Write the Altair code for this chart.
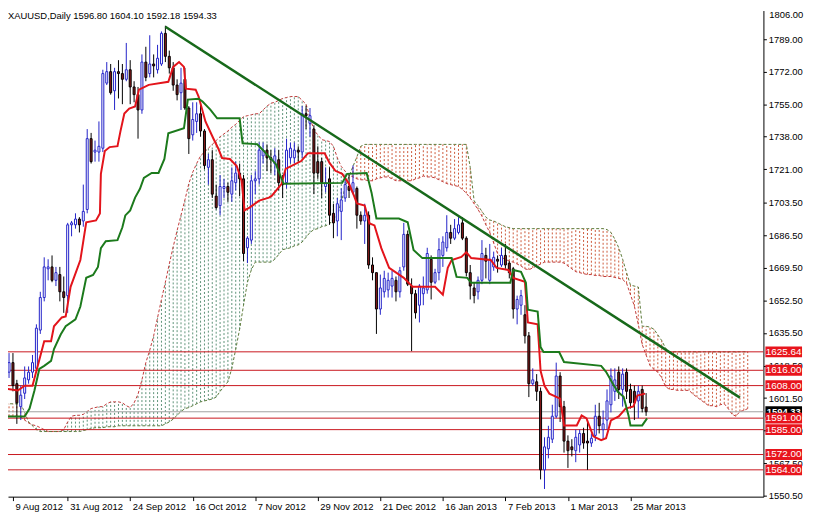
import json
import altair as alt
import pandas as pd

TITLE = "XAUUSD,Daily  1596.80 1604.10 1592.18 1594.33"
FONT = "Liberation Sans"

# daily candles, bar index 0 = 9 Aug 2012
OPEN = [1609, 1615, 1620, 1609, 1597, 1604, 1611, 1615, 1617, 1637,
        1654, 1669, 1670, 1663, 1666, 1657, 1655, 1692, 1692, 1695,
        1694, 1700, 1737, 1730, 1730, 1732, 1766, 1772, 1762, 1772,
        1771, 1768, 1773, 1764, 1760, 1752, 1777, 1771, 1776, 1773,
        1776, 1792, 1780, 1774, 1765, 1761, 1768, 1753, 1739, 1746,
        1750, 1741, 1722, 1726, 1707, 1702, 1711, 1712, 1708, 1714,
        1719, 1716, 1680, 1684, 1715, 1716, 1728, 1731, 1727, 1724,
        1726, 1714, 1714, 1727, 1727, 1731, 1730, 1750, 1745, 1742,
        1725, 1725, 1712, 1716, 1698, 1694, 1699, 1706, 1712, 1709,
        1711, 1697, 1694, 1697, 1671, 1667, 1648, 1657, 1658, 1660,
        1663, 1657, 1670, 1687, 1660, 1656, 1650, 1656, 1658, 1674,
        1662, 1667, 1676, 1680, 1688, 1685, 1688, 1693, 1685, 1667,
        1659, 1657, 1663, 1676, 1663, 1670, 1674, 1671, 1676, 1672,
        1669, 1648, 1650, 1645, 1634, 1609, 1610, 1605, 1564, 1575,
        1580, 1592, 1613, 1597, 1579, 1576, 1574, 1577, 1583, 1579,
        1578, 1582, 1592, 1585, 1590, 1598, 1605, 1615, 1606, 1615,
        1606, 1605, 1600, 1606, 1596.80]
HIGH = [1624, 1625, 1625, 1611, 1608, 1618, 1618, 1624, 1640, 1657,
        1675, 1674, 1676, 1670, 1670, 1665, 1693, 1694, 1698, 1696,
        1713, 1742, 1740, 1736, 1746, 1773, 1777, 1776, 1774, 1778,
        1776, 1787, 1778, 1767, 1764, 1781, 1785, 1791, 1781, 1786,
        1793, 1796, 1783, 1777, 1768, 1774, 1774, 1754, 1756, 1756,
        1755, 1742, 1729, 1731, 1713, 1718, 1716, 1714, 1722, 1725,
        1724, 1718, 1686, 1718, 1720, 1735, 1735, 1734, 1731, 1732,
        1731, 1718, 1737, 1735, 1735, 1733, 1754, 1754, 1753, 1744,
        1733, 1727, 1722, 1722, 1703, 1706, 1711, 1718, 1718, 1723,
        1712, 1699, 1703, 1699, 1675, 1667, 1666, 1668, 1667, 1668,
        1665, 1670, 1693, 1689, 1664, 1658, 1661, 1665, 1680, 1676,
        1669, 1685, 1686, 1697, 1692, 1695, 1696, 1696, 1686, 1671,
        1662, 1665, 1684, 1680, 1682, 1678, 1676, 1680, 1682, 1673,
        1670, 1655, 1658, 1650, 1636, 1617, 1614, 1607, 1581, 1587,
        1598, 1620, 1615, 1600, 1582, 1580, 1585, 1585, 1586, 1590,
        1583, 1598, 1599, 1595, 1606, 1617, 1617, 1618, 1617, 1617,
        1609, 1608, 1608, 1608, 1604.10]
LOW = [1606, 1612, 1605, 1588, 1590, 1601, 1609, 1612, 1616, 1635,
       1652, 1663, 1662, 1660, 1652, 1646, 1646, 1686, 1690, 1688,
       1691, 1698, 1724, 1725, 1725, 1730, 1765, 1760, 1752, 1758,
       1755, 1767, 1755, 1756, 1737, 1750, 1767, 1769, 1769, 1771,
       1775, 1777, 1771, 1762, 1757, 1752, 1752, 1729, 1736, 1740,
       1738, 1721, 1713, 1706, 1700, 1697, 1706, 1704, 1704, 1710,
       1707, 1673, 1672, 1682, 1708, 1713, 1724, 1720, 1719, 1718,
       1710, 1706, 1711, 1724, 1724, 1725, 1727, 1742, 1738, 1708,
       1716, 1706, 1709, 1692, 1685, 1686, 1684, 1704, 1706, 1708,
       1690, 1692, 1682, 1669, 1663, 1635, 1645, 1654, 1654, 1654,
       1652, 1654, 1668, 1660, 1626, 1643, 1641, 1650, 1656, 1653,
       1661, 1663, 1670, 1678, 1682, 1684, 1687, 1684, 1665, 1653,
       1651, 1653, 1661, 1664, 1661, 1668, 1667, 1670, 1669, 1664,
       1643, 1640, 1645, 1630, 1602, 1608, 1600, 1559, 1554, 1570,
       1578, 1591, 1589, 1573, 1565, 1571, 1568, 1573, 1575, 1564,
       1576, 1579, 1583, 1580, 1585, 1594, 1600, 1601, 1597, 1601,
       1596, 1590, 1591, 1594, 1592.18]
CLOSE = [1619, 1620, 1608, 1599, 1603, 1612, 1615, 1620, 1638, 1654,
         1670, 1670, 1663, 1667, 1657, 1654, 1692, 1693, 1695, 1692,
         1699, 1737, 1725, 1731, 1733, 1771, 1772, 1761, 1772, 1771,
         1768, 1773, 1764, 1760, 1752, 1777, 1769, 1776, 1775, 1779,
         1792, 1780, 1774, 1765, 1760, 1766, 1753, 1737, 1747, 1750,
         1741, 1723, 1726, 1708, 1701, 1712, 1712, 1709, 1715, 1719,
         1716, 1677, 1685, 1715, 1716, 1731, 1731, 1727, 1726, 1728,
         1714, 1713, 1731, 1732, 1731, 1730, 1750, 1749, 1749, 1719,
         1719, 1714, 1714, 1697, 1693, 1703, 1705, 1713, 1710, 1714,
         1697, 1694, 1697, 1671, 1667, 1648, 1659, 1664, 1663, 1664,
         1657, 1668, 1687, 1661, 1656, 1646, 1660, 1659, 1677, 1662,
         1667, 1679, 1683, 1688, 1685, 1690, 1692, 1685, 1667, 1660,
         1655, 1663, 1677, 1673, 1674, 1675, 1673, 1676, 1671, 1667,
         1648, 1653, 1655, 1634, 1609, 1611, 1605, 1564, 1576, 1581,
         1592, 1613, 1597, 1579, 1574, 1574.5, 1581, 1583, 1578, 1578,
         1580.5, 1592, 1587, 1588, 1600, 1613, 1611, 1606, 1614, 1605,
         1599, 1599, 1605, 1596, 1594.33]

# Ichimoku lines (bar index, price) read at their turning points
TENKAN = [(0, 1606.4), (3.25, 1605.4), (5, 1607.9), (7, 1607.9), (10, 1631.2), (11.75, 1631.2),
          (12.5, 1639), (14.5, 1643.6), (15.5, 1644.1), (16.75, 1659.6), (19.25, 1673.6),
          (20.75, 1693.3), (23.25, 1694.3), (24.25, 1697.9), (24.5, 1718.6), (25.5, 1730.5),
          (26.75, 1732.6), (28.75, 1733.1), (29.5, 1740.8), (30.5, 1750.1), (31.75, 1752.7),
          (33.25, 1753.8), (34.25, 1762.6), (36.75, 1765.1), (41.75, 1766.7), (43, 1774.5),
          (44.5, 1777), (45.75, 1774.5), (46.25, 1763.1), (48.75, 1762.6), (49.5, 1759),
          (51.25, 1746), (53.25, 1737.2), (54.5, 1732), (55.5, 1726.9), (57.5, 1726.4),
          (59.25, 1722.7), (60.5, 1715), (61.25, 1699.5), (62.5, 1701), (65, 1704.6),
          (67.5, 1706.2), (68.25, 1707.2), (70.75, 1713.4), (71.75, 1721.2), (75.75, 1725.3),
          (77.5, 1729.4), (81.75, 1729.4), (83, 1724.3), (84.5, 1720.2), (86.25, 1718.6),
          (88, 1713.4), (89.25, 1707.2), (90, 1703.1), (92, 1702), (93.25, 1692.7),
          (94.5, 1691.7), (96.25, 1679.8), (98.25, 1669.5), (102, 1664.3), (104.25, 1659.6),
          (110, 1659.6), (112, 1655.5), (113.25, 1669.5), (114.25, 1673.6), (116.75, 1675.2),
          (118, 1677.7), (119.25, 1674.6), (124.25, 1673.6), (125.75, 1669.5), (128.75, 1668.4),
          (130, 1664.3), (133, 1662.2), (133.75, 1641), (136.25, 1640), (137, 1615.7),
          (138, 1607.9), (139.25, 1603.8), (142, 1601.2), (143, 1587.2), (146.25, 1587.2),
          (147.5, 1592.4), (148.75, 1590.9), (150.5, 1581.5), (152.5, 1579.5), (153.75, 1580.5),
          (155, 1589.8), (157, 1591.9), (158.75, 1596), (160.75, 1597.1), (161.75, 1602.8),
          (163.75, 1603.8)]
KIJUN = [(0, 1591.9), (5, 1591.9), (6.25, 1596), (7.5, 1605.4), (8.75, 1616.7), (10, 1618.3),
         (11.75, 1620.9), (12.5, 1627.1), (14.25, 1634.8), (15.5, 1639), (18, 1642.6),
         (19.25, 1649.3), (20.75, 1664.3), (22.5, 1665.8), (23.75, 1670), (24.5, 1679.8),
         (25.75, 1683.4), (28.75, 1684), (30, 1690.7), (30.75, 1696.9), (32, 1699.5),
         (33.25, 1706.2), (34.5, 1710.8), (35.5, 1716.5), (37.5, 1719.1), (39.25, 1719.1),
         (40.75, 1726.4), (41.75, 1739.8), (45.75, 1742.4), (46.75, 1757.4), (49.5, 1757.9),
         (50.5, 1756.4), (52.5, 1752.2), (54.25, 1747.6), (60, 1747.6), (60.75, 1734.6),
         (64.5, 1734.1), (65.75, 1731.5), (69.25, 1723.8), (71.25, 1713.4), (86.25, 1713.9),
         (87.5, 1718.6), (92.5, 1719.1), (93.75, 1708.8), (95, 1695.3), (100.75, 1695.3),
         (103, 1693.3), (104.5, 1678.8), (106.75, 1674.6), (114.25, 1674.6), (115.5, 1664.8),
         (118.25, 1664.3), (119.25, 1661.7), (129.25, 1661.7), (130, 1668.4), (132, 1667.4),
         (133.25, 1661.7), (133.75, 1647.7), (136.25, 1646.7), (137, 1628.1), (137.75, 1625.5),
         (141.75, 1625.5), (143, 1620.3), (152.5, 1618.3), (153.75, 1615.2), (155.5, 1609),
         (156.75, 1604.8), (158.25, 1602.2), (159.5, 1592.4), (160, 1587.2), (163, 1587.2),
         (164.25, 1590.9)]

# Senkou spans, one value per bar 0..190 (cloud runs 26 bars ahead)
SPAN_A = [1592, 1592, 1592, 1592, 1591.5, 1590, 1588.5, 1587.5, 1587, 1586,
          1585, 1584, 1584, 1584, 1584, 1585, 1589, 1592, 1592.5, 1592.5,
          1593, 1594.5, 1596, 1596.5, 1597, 1597, 1598.5, 1599.5, 1599.5, 1599.5,
          1599, 1597.5, 1596.5, 1599, 1603.5, 1611, 1620, 1626.5, 1634, 1643.5,
          1653, 1662, 1671.5, 1680.5, 1689, 1697, 1705, 1713.5, 1719.5, 1724,
          1728, 1730, 1732, 1734, 1736, 1738, 1739.5, 1741, 1743, 1744.5,
          1746.5, 1748.5, 1749, 1749.5, 1750, 1750, 1752, 1754, 1755.5, 1756,
          1757, 1758, 1758.5, 1759, 1759, 1759, 1757, 1755, 1748, 1741.5,
          1739, 1736.5, 1736, 1735.5, 1733, 1727, 1722.5, 1720, 1718, 1717,
          1716, 1715.5, 1715.5, 1715, 1715, 1716, 1716.5, 1717, 1717, 1716,
          1715, 1715, 1715, 1715, 1715, 1716, 1716.5, 1717.5, 1717, 1717,
          1716.5, 1715.5, 1714.5, 1713.5, 1713, 1712.5, 1712, 1710.5, 1708.5, 1706,
          1703, 1700, 1696.5, 1692, 1688, 1682.5, 1677, 1675, 1674, 1673,
          1672.5, 1671.5, 1670.5, 1669, 1668.5, 1669.5, 1670.5, 1671.5, 1672.5, 1672.5,
          1672.5, 1672.5, 1672.5, 1672, 1670.5, 1669, 1667.5, 1667, 1666.5, 1666,
          1666, 1665.5, 1665.5, 1665, 1665, 1665, 1664.5, 1664, 1663.5, 1661.5,
          1655.5, 1649.5, 1640, 1629.5, 1624, 1618.5, 1616.5, 1615, 1612, 1607.5,
          1606, 1606, 1605.5, 1605.5, 1605.5, 1605.5, 1603.5, 1602, 1600.5, 1599,
          1597.5, 1597.5, 1597, 1598, 1598.5, 1596, 1593, 1592, 1594.5, 1595, 1596]
SPAN_B = [1598.5, 1598.5, 1598.5, 1598.5, 1598.5, 1594, 1589, 1587, 1585, 1584,
          1584, 1584, 1584, 1584, 1584, 1584, 1584, 1584, 1584, 1584,
          1584.5, 1585, 1585.5, 1586, 1586, 1586, 1586.5, 1586.5, 1586.5, 1587,
          1587, 1587, 1587, 1587, 1587, 1587, 1587, 1587, 1587, 1587,
          1587, 1588, 1589, 1590.5, 1592.5, 1594.5, 1596, 1596.5, 1597.5, 1598.5,
          1599.5, 1600, 1600.5, 1601, 1602, 1605, 1607.5, 1610, 1617, 1627,
          1637.5, 1650, 1662, 1668.5, 1672.5, 1672.5, 1672.5, 1672.5, 1672.5, 1674,
          1676.5, 1679, 1679.5, 1680, 1681, 1681.5, 1683, 1685.5, 1688, 1689.5,
          1690, 1691, 1691.5, 1692.5, 1695, 1697, 1704, 1711.5, 1717.5, 1722.5,
          1727.5, 1733, 1734, 1734, 1734, 1734, 1734, 1734, 1734, 1734,
          1734, 1734, 1734, 1734, 1734, 1734, 1734, 1734, 1734, 1734,
          1734, 1734, 1734, 1734, 1734, 1734, 1734, 1734, 1734, 1722,
          1704.5, 1702, 1699, 1696, 1694.5, 1694, 1693, 1692, 1691, 1690.5,
          1690, 1690, 1690, 1690, 1690, 1690, 1690, 1690, 1690, 1690,
          1690, 1690, 1690, 1690, 1690, 1690, 1690, 1690, 1690, 1690,
          1690, 1690, 1690, 1690, 1689.5, 1688, 1684.5, 1680, 1674, 1667,
          1660.5, 1660, 1659.5, 1639, 1639, 1638.5, 1637.5, 1634.5, 1631.5, 1627.5,
          1625.64, 1625.64, 1625.64, 1625.64, 1625.64, 1625.64, 1625.64, 1625.64, 1625.64, 1625.64,
          1625.64, 1625.64, 1625.64, 1625.64, 1625.64, 1625.64, 1625.64, 1625.64, 1625.64, 1625.64,
          1625.64]

TREND = [(41, 1795.5), (188, 1601.7)]
LEVELS = [1625.64, 1616.00, 1608.00, 1591.00, 1585.00, 1572.00, 1564.00]
BID = 1594.33
DATE_TICKS = [2, 16, 32, 48, 64, 80, 96, 112, 128, 144, 160]
DATE_LABELS = ["9 Aug 2012", "31 Aug 2012", "24 Sep 2012", "16 Oct 2012", "7 Nov 2012",
               "29 Nov 2012", "21 Dec 2012", "16 Jan 2013", "7 Feb 2013", "1 Mar 2013",
               "25 Mar 2013"]
PRICE_TICKS = [1550.5, 1567.5, 1584.5, 1601.5, 1618.5, 1635.5, 1652.5, 1669.5, 1686.5,
               1703.5, 1721.0, 1738.0, 1755.0, 1772.0, 1789.0]
TOP_LABEL = "1806.00"

W, H = 763, 491
BULL = "#2222c8"
BEAR_FILL = "#8a1a1a"

xs = alt.Scale(domain=[2, 192.75], nice=False, zero=False)
ys = alt.Scale(domain=[1549.99, 1803.93], nice=False, zero=False)

label_expr = json.dumps(DATE_LABELS) + "[datum.value < 16 ? 0 : round(datum.value / 16)]"
xaxis = alt.Axis(values=DATE_TICKS, labelExpr=label_expr, orient="bottom", title=None, grid=False,
                 tickSize=4, tickColor="black", domainColor="black", labelAlign="left",
                 labelOffset=2, labelPadding=1, labelFont=FONT, labelFontSize=9.5,
                 labelColor="black", labelOverlap=False, labelFlush=False)
yaxis = alt.Axis(values=PRICE_TICKS, format=".2f", orient="right", title=None, grid=False,
                 tickSize=3, tickColor="black", domainColor="black", labelPadding=2,
                 labelFont=FONT, labelFontSize=9.5, labelColor="black", labelOverlap=False,
                 labelFlush=False)


def X(f):
    return alt.X(f, type="quantitative", scale=xs, axis=xaxis)


def Y(f):
    return alt.Y(f, type="quantitative", scale=ys, axis=yaxis)


n = len(CLOSE)
candles = pd.DataFrame({"i": list(range(n)), "o": OPEN, "h": HIGH, "l": LOW, "c": CLOSE})
candles["up"] = candles["c"] >= candles["o"]
bulls = candles[candles["up"]]
bears = candles[~candles["up"]]

cloud = pd.DataFrame({"i": list(range(len(SPAN_A))), "a": SPAN_A, "b": SPAN_B})
cloud["lo"] = cloud[["a", "b"]].min(axis=1)
cloud["hi"] = cloud[["a", "b"]].max(axis=1)
cloud["kind"] = ["up" if a > b else "down" for a, b in zip(SPAN_A, SPAN_B)]

tenkan = pd.DataFrame(TENKAN, columns=["i", "p"])
kijun = pd.DataFrame(KIJUN, columns=["i", "p"])
trend = pd.DataFrame(TREND, columns=["i", "p"])
levels = pd.DataFrame({"p": LEVELS, "t": [f"{v:.2f}" for v in LEVELS]})
bid = pd.DataFrame({"p": [BID], "t": [f"{BID:.2f}"]})

hatch = alt.Chart(cloud).mark_rule(strokeDash=[2, 2], strokeWidth=1, clip=True).encode(
    x=X("i"), y=Y("lo"), y2=alt.Y2("hi"),
    color=alt.Color("kind:N", scale=alt.Scale(domain=["up", "down"], range=["#5e9378", "#cc5a3c"]),
                    legend=None))
span_a = alt.Chart(cloud).mark_line(color="#c03a3a", strokeWidth=1, strokeDash=[3, 2], clip=True).encode(
    x=X("i"), y=Y("a"))
span_b = alt.Chart(cloud).mark_line(color="#5c7a3a", strokeWidth=1, strokeDash=[3, 2], clip=True).encode(
    x=X("i"), y=Y("b"))
hlines = alt.Chart(levels).mark_rule(color="#c8161d", strokeWidth=1).encode(y=Y("p"))
bidline = alt.Chart(bid).mark_rule(color="#a0a0a0", strokeWidth=1).encode(y=Y("p"))

bull_wick = alt.Chart(bulls).mark_rule(color=BULL, strokeWidth=1, clip=True).encode(
    x=X("i"), y=Y("l"), y2=alt.Y2("h"))
bear_wick = alt.Chart(bears).mark_rule(color="black", strokeWidth=1, clip=True).encode(
    x=X("i"), y=Y("l"), y2=alt.Y2("h"))
bull_body = alt.Chart(bulls).mark_bar(size=2, fill="white", stroke=BULL, strokeWidth=1, clip=True).encode(
    x=X("i"), y=Y("o"), y2=alt.Y2("c"))
bear_body = alt.Chart(bears).mark_bar(size=2, fill=BEAR_FILL, stroke="black", strokeWidth=1, clip=True).encode(
    x=X("i"), y=Y("o"), y2=alt.Y2("c"))

tk = alt.Chart(tenkan).mark_line(color="#e3141b", strokeWidth=2, clip=True).encode(x=X("i"), y=Y("p"))
kj = alt.Chart(kijun).mark_line(color="#1c7a1c", strokeWidth=2, clip=True).encode(x=X("i"), y=Y("p"))
tl = alt.Chart(trend).mark_line(color="#17691a", strokeWidth=2.5, clip=True).encode(x=X("i"), y=Y("p"))

title = alt.Chart(pd.DataFrame({"t": [TITLE]})).mark_text(
    align="left", baseline="top", font=FONT, fontSize=9.5, color="black").encode(
    x=alt.value(0), y=alt.value(1), text="t:N")
top_label = alt.Chart(pd.DataFrame({"t": [TOP_LABEL]})).mark_text(
    align="left", baseline="top", font=FONT, fontSize=9.5, color="black").encode(
    x=alt.value(769), y=alt.value(0), text="t:N")

bid_box = alt.Chart(bid).mark_rect(fill="black", yOffset=-5.5, y2Offset=5.5).encode(
    x=alt.value(765), x2=alt.value(802), y=Y("p"), y2=alt.Y2("p"))
bid_text = alt.Chart(bid).mark_text(color="white", font=FONT, fontSize=9.5, fontWeight="bold",
                                    align="center", baseline="middle").encode(
    x=alt.value(783.5), y=Y("p"), text="t:N")
lvl_box = alt.Chart(levels).mark_rect(fill="#e8141c", yOffset=-5.5, y2Offset=5.5).encode(
    x=alt.value(765), x2=alt.value(802), y=Y("p"), y2=alt.Y2("p"))
lvl_text = alt.Chart(levels).mark_text(color="white", font=FONT, fontSize=10,
                                       align="center", baseline="middle").encode(
    x=alt.value(783.5), y=Y("p"), text="t:N")

chart = alt.layer(
    hatch, span_a, span_b, hlines, bidline,
    bull_wick, bear_wick, bull_body, bear_body,
    tk, kj, tl, title, top_label,
    bid_box, bid_text, lvl_box, lvl_text,
).properties(
    width=W, height=H,
    autosize=alt.AutoSizeParams(type="none"),
    padding={"left": 0, "top": 0, "right": 42, "bottom": 18},
).configure_view(stroke=None)

chart.save("out.html", embed_options={"renderer": "svg", "actions": False})
